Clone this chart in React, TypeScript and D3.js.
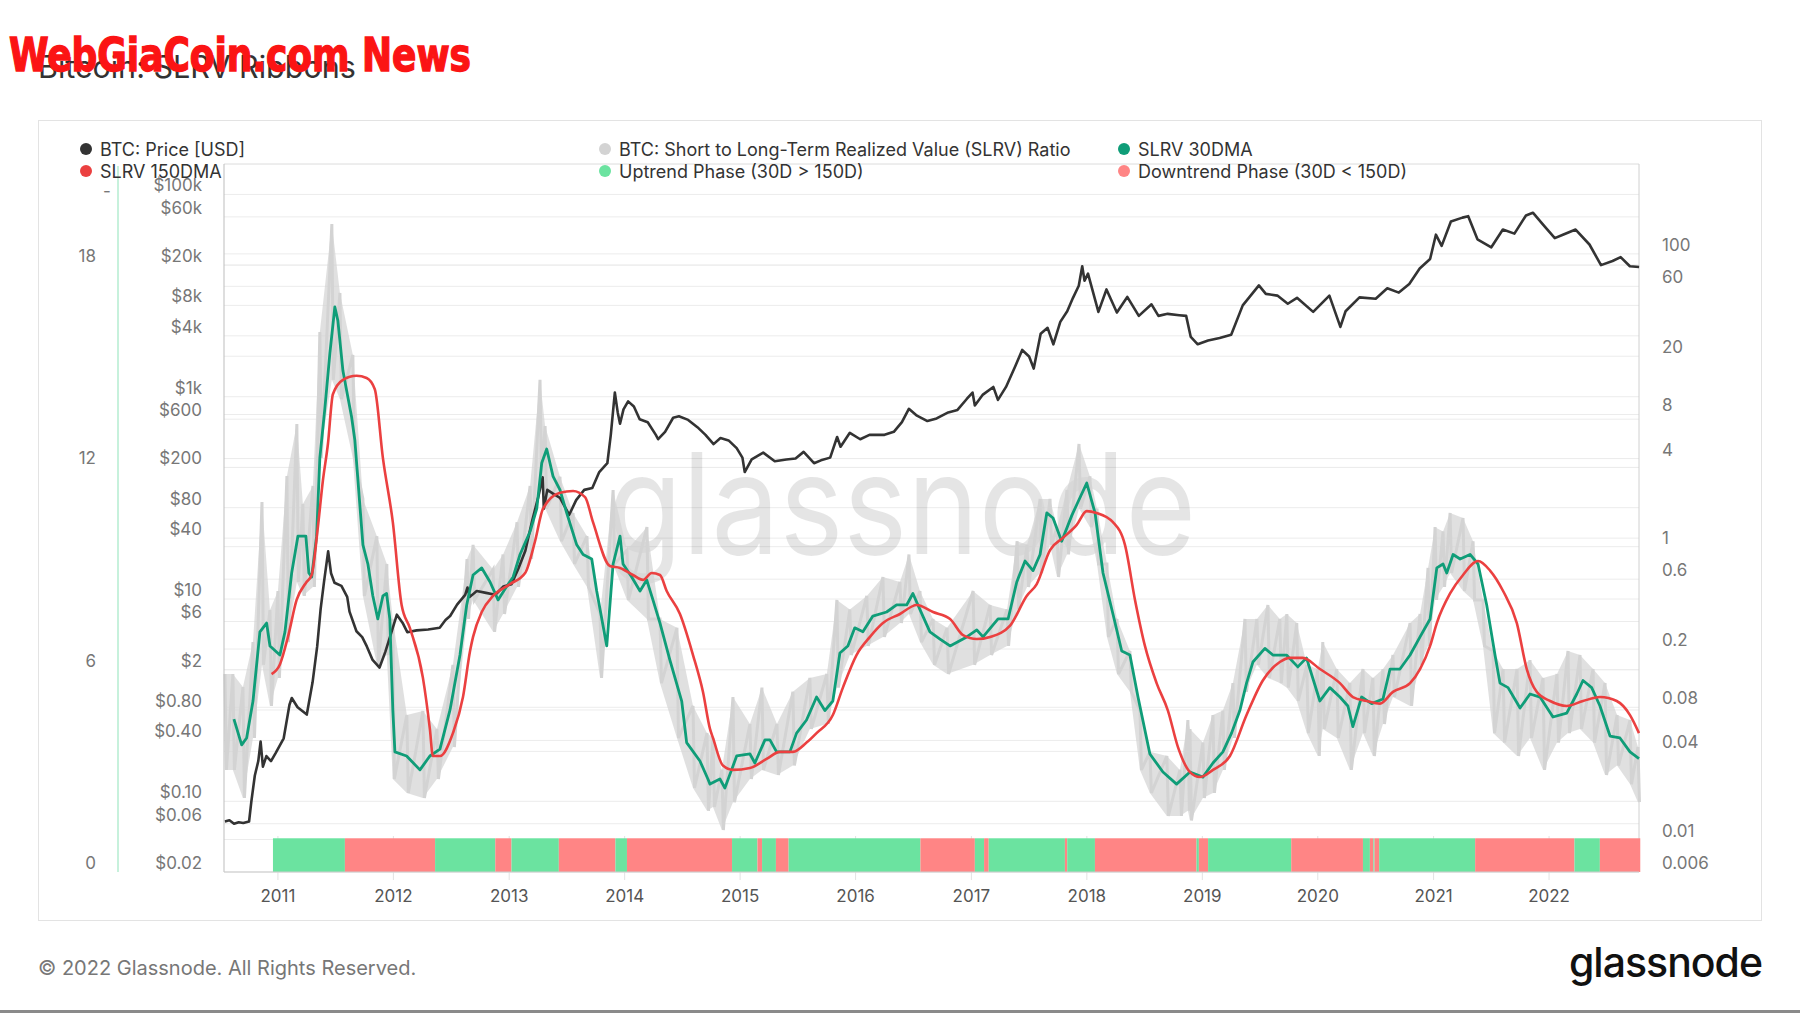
import * as d3 from "d3";

// decimal year -> Date
const fromYear = (t: number) => {
  const y = Math.floor(t);
  const a = Date.UTC(y, 0, 1);
  const b = Date.UTC(y + 1, 0, 1);
  return new Date(a + (t - y) * (b - a));
};

// BTC price [USD], [decimal year, price]
const btcPrice: [number, number][] = [
  [2010.54, 0.063], [2010.58, 0.065], [2010.62, 0.06], [2010.66, 0.062], [2010.7, 0.061], [2010.75, 0.063],
  [2010.77, 0.1], [2010.8, 0.18], [2010.83, 0.25], [2010.85, 0.39], [2010.87, 0.22], [2010.9, 0.28],
  [2010.94, 0.25], [2010.98, 0.3], [2011.05, 0.42], [2011.1, 0.9], [2011.12, 1.05], [2011.17, 0.85],
  [2011.25, 0.72], [2011.3, 1.5], [2011.34, 3.4], [2011.37, 8], [2011.4, 15], [2011.435, 29.6],
  [2011.46, 18], [2011.49, 14.5], [2011.55, 13.5], [2011.6, 10.5], [2011.62, 7.5], [2011.68, 4.8],
  [2011.73, 4.2], [2011.77, 3.4], [2011.82, 2.5], [2011.88, 2.1], [2011.93, 3.0], [2011.97, 4.2],
  [2012.03, 7.0], [2012.08, 5.8], [2012.12, 4.7], [2012.2, 4.9], [2012.3, 5.0], [2012.4, 5.2],
  [2012.45, 6.2], [2012.49, 6.8], [2012.55, 8.8], [2012.62, 11], [2012.64, 13], [2012.66, 10.5],
  [2012.72, 12], [2012.8, 11.5], [2012.88, 11], [2012.95, 13.3], [2013.02, 14], [2013.08, 20],
  [2013.14, 30], [2013.2, 60], [2013.25, 100], [2013.29, 160], [2013.3, 78], [2013.33, 120],
  [2013.38, 110], [2013.44, 100], [2013.5, 75], [2013.52, 68], [2013.58, 95], [2013.65, 120],
  [2013.72, 125], [2013.78, 180], [2013.85, 220], [2013.88, 420], [2013.915, 1100], [2013.94, 700],
  [2013.96, 540], [2013.99, 750], [2014.03, 900], [2014.08, 800], [2014.13, 600], [2014.2, 560],
  [2014.27, 420], [2014.29, 380], [2014.35, 450], [2014.42, 620], [2014.47, 640], [2014.55, 590],
  [2014.63, 500], [2014.7, 420], [2014.77, 340], [2014.83, 390], [2014.9, 370], [2014.97, 310],
  [2015.02, 250], [2015.04, 180], [2015.1, 240], [2015.2, 280], [2015.3, 230], [2015.4, 240],
  [2015.48, 245], [2015.55, 285], [2015.64, 220], [2015.7, 235], [2015.78, 250], [2015.84, 400],
  [2015.87, 320], [2015.95, 440], [2016.04, 380], [2016.12, 420], [2016.25, 420], [2016.33, 450],
  [2016.4, 560], [2016.46, 760], [2016.53, 650], [2016.62, 575], [2016.7, 610], [2016.8, 700],
  [2016.88, 740], [2016.96, 950], [2017.01, 1100], [2017.03, 820], [2017.1, 1050], [2017.19, 1250],
  [2017.23, 930], [2017.3, 1250], [2017.38, 2000], [2017.44, 2900], [2017.5, 2500], [2017.54, 1900],
  [2017.6, 4200], [2017.66, 4800], [2017.71, 3300], [2017.77, 5500], [2017.83, 7000], [2017.88, 9500],
  [2017.93, 12500], [2017.96, 19500], [2017.98, 14000], [2018.01, 16500], [2018.1, 6900], [2018.17, 11500],
  [2018.26, 6800], [2018.35, 9700], [2018.45, 6300], [2018.56, 8200], [2018.62, 6300], [2018.7, 6600],
  [2018.8, 6400], [2018.86, 6300], [2018.9, 3900], [2018.96, 3300], [2019.05, 3600], [2019.15, 3800],
  [2019.25, 4100], [2019.35, 8000], [2019.49, 12600], [2019.55, 10400], [2019.65, 10000], [2019.74, 8300],
  [2019.82, 9500], [2019.96, 6900], [2020.1, 10000], [2020.195, 4900], [2020.24, 7000], [2020.36, 9600],
  [2020.5, 9300], [2020.6, 11800], [2020.7, 10700], [2020.79, 13000], [2020.88, 18500], [2020.97, 23000],
  [2021.02, 40000], [2021.07, 31000], [2021.15, 54000], [2021.25, 59000], [2021.3, 61000], [2021.38, 36000],
  [2021.5, 30000], [2021.6, 45000], [2021.7, 41000], [2021.8, 62000], [2021.86, 66000], [2021.95, 50000],
  [2022.05, 37000], [2022.12, 40000], [2022.23, 45000], [2022.35, 32000], [2022.45, 20000], [2022.55, 22000],
  [2022.62, 24000], [2022.7, 19500], [2022.78, 19200],
];

// SLRV 30DMA
const slrv30: [number, number][] = [
  [2010.619, 0.0665], [2010.686, 0.0443], [2010.729, 0.0494], [2010.784, 0.0883], [2010.844, 0.262], [2010.902, 0.301],
  [2010.931, 0.21], [2011.017, 0.182], [2011.061, 0.262], [2011.119, 0.661], [2011.173, 1.18], [2011.242, 1.18],
  [2011.268, 0.661], [2011.292, 0.621], [2011.335, 1.18], [2011.363, 4.04], [2011.407, 8.86], [2011.45, 21.0],
  [2011.493, 43.4], [2011.519, 35.0], [2011.563, 15.9], [2011.638, 7.69], [2011.666, 5.36], [2011.736, 1.03],
  [2011.779, 0.762], [2011.822, 0.461], [2011.865, 0.321], [2011.909, 0.461], [2011.941, 0.479], [2011.969, 0.321],
  [2011.995, 0.0768], [2012.013, 0.0397], [2012.114, 0.0372], [2012.229, 0.0299], [2012.315, 0.0372], [2012.402, 0.0415],
  [2012.489, 0.0768], [2012.575, 0.182], [2012.633, 0.4], [2012.688, 0.641], [2012.763, 0.716], [2012.835, 0.574],
  [2012.904, 0.433], [2012.964, 0.514], [2013.034, 0.621], [2013.094, 0.885], [2013.181, 1.27], [2013.239, 1.82],
  [2013.282, 3.73], [2013.325, 4.65], [2013.38, 3.02], [2013.44, 2.44], [2013.498, 1.7], [2013.585, 1.03],
  [2013.64, 0.885], [2013.715, 0.824], [2013.758, 0.498], [2013.845, 0.21], [2013.9, 0.762], [2013.96, 1.18],
  [2013.986, 0.762], [2014.061, 0.621], [2014.133, 0.498], [2014.191, 0.593], [2014.245, 0.433], [2014.306, 0.301],
  [2014.392, 0.168], [2014.494, 0.0883], [2014.537, 0.0459], [2014.652, 0.0344], [2014.721, 0.0259], [2014.739, 0.0239],
  [2014.825, 0.0259], [2014.868, 0.0225], [2014.926, 0.0299], [2014.97, 0.0372], [2015.085, 0.0384], [2015.128, 0.0333],
  [2015.215, 0.0479], [2015.258, 0.0479], [2015.316, 0.0397], [2015.431, 0.0397], [2015.489, 0.0533], [2015.575, 0.0655],
  [2015.662, 0.094], [2015.734, 0.076], [2015.803, 0.0883], [2015.864, 0.188], [2015.933, 0.21], [2015.993, 0.279],
  [2016.063, 0.262], [2016.149, 0.336], [2016.268, 0.358], [2016.354, 0.4], [2016.441, 0.4], [2016.495, 0.479],
  [2016.556, 0.372], [2016.642, 0.262], [2016.729, 0.234], [2016.816, 0.21], [2016.96, 0.242], [2017.047, 0.27],
  [2017.101, 0.242], [2017.231, 0.321], [2017.318, 0.321], [2017.393, 0.574], [2017.465, 0.798], [2017.534, 0.687],
  [2017.595, 0.885], [2017.653, 1.7], [2017.707, 1.57], [2017.782, 1.09], [2017.869, 1.63], [2017.923, 2.02],
  [2017.999, 2.72], [2018.071, 1.7], [2018.14, 0.661], [2018.226, 0.347], [2018.302, 0.194], [2018.373, 0.182],
  [2018.443, 0.094], [2018.546, 0.0384], [2018.659, 0.0289], [2018.777, 0.0239], [2018.893, 0.0289], [2019.005, 0.0267],
  [2019.092, 0.0333], [2019.178, 0.0397], [2019.253, 0.0533], [2019.325, 0.076], [2019.383, 0.117], [2019.438, 0.163],
  [2019.542, 0.202], [2019.611, 0.182], [2019.729, 0.182], [2019.827, 0.151], [2019.902, 0.174], [2020.018, 0.0883],
  [2020.104, 0.109], [2020.191, 0.094], [2020.26, 0.0817], [2020.303, 0.0591], [2020.378, 0.094], [2020.465, 0.0847],
  [2020.563, 0.0912], [2020.624, 0.146], [2020.71, 0.146], [2020.797, 0.182], [2020.883, 0.242], [2020.97, 0.321],
  [2021.028, 0.716], [2021.082, 0.762], [2021.114, 0.661], [2021.169, 0.885], [2021.23, 0.824], [2021.316, 0.885],
  [2021.385, 0.762], [2021.46, 0.4], [2021.532, 0.182], [2021.575, 0.117], [2021.645, 0.109], [2021.749, 0.0791],
  [2021.835, 0.0986], [2021.922, 0.094], [2022.034, 0.0687], [2022.153, 0.0731], [2022.24, 0.0986], [2022.294, 0.122],
  [2022.369, 0.109], [2022.441, 0.0817], [2022.528, 0.0509], [2022.614, 0.0494], [2022.701, 0.0397], [2022.779, 0.0357],
];

// SLRV 150DMA
const slrv150: [number, number][] = [
  [2010.945, 0.135], [2011.017, 0.157], [2011.087, 0.242], [2011.162, 0.433], [2011.248, 0.574], [2011.292, 0.641],
  [2011.346, 1.36], [2011.389, 2.81], [2011.433, 5.03], [2011.476, 11.0], [2011.563, 13.8], [2011.681, 14.7],
  [2011.768, 14.2], [2011.839, 11.9], [2011.909, 4.04], [2011.995, 1.47], [2012.071, 0.4], [2012.142, 0.279],
  [2012.255, 0.127], [2012.315, 0.0569], [2012.341, 0.0372], [2012.402, 0.0372], [2012.514, 0.0533], [2012.601, 0.094],
  [2012.662, 0.194], [2012.688, 0.242], [2012.763, 0.358], [2012.861, 0.461], [2013.008, 0.556], [2013.138, 0.661],
  [2013.224, 1.09], [2013.293, 1.82], [2013.44, 2.34], [2013.553, 2.4], [2013.657, 2.18], [2013.726, 1.47],
  [2013.873, 0.738], [2013.96, 0.716], [2014.072, 0.641], [2014.159, 0.593], [2014.234, 0.661], [2014.306, 0.641],
  [2014.364, 0.498], [2014.479, 0.347], [2014.592, 0.182], [2014.678, 0.102], [2014.739, 0.0569], [2014.765, 0.0494],
  [2014.851, 0.032], [2014.938, 0.0299], [2015.085, 0.0308], [2015.229, 0.0355], [2015.344, 0.0397], [2015.457, 0.0397],
  [2015.575, 0.0459], [2015.662, 0.0533], [2015.803, 0.0708], [2015.89, 0.109], [2016.008, 0.182], [2016.124, 0.242],
  [2016.236, 0.301], [2016.383, 0.347], [2016.528, 0.4], [2016.669, 0.358], [2016.816, 0.321], [2016.928, 0.249],
  [2017.047, 0.234], [2017.162, 0.242], [2017.335, 0.289], [2017.479, 0.461], [2017.566, 0.556], [2017.681, 0.949],
  [2017.794, 1.15], [2017.912, 1.41], [2017.999, 1.75], [2018.085, 1.7], [2018.226, 1.47], [2018.33, 1.03],
  [2018.417, 0.433], [2018.503, 0.21], [2018.604, 0.117], [2018.702, 0.076], [2018.789, 0.0428], [2018.893, 0.0289],
  [2018.979, 0.0267], [2019.092, 0.0299], [2019.239, 0.0372], [2019.383, 0.0708], [2019.524, 0.122], [2019.671, 0.163],
  [2019.758, 0.174], [2019.87, 0.174], [2020.018, 0.146], [2020.191, 0.117], [2020.303, 0.094], [2020.422, 0.0883],
  [2020.537, 0.0847], [2020.649, 0.102], [2020.797, 0.117], [2020.883, 0.146], [2020.97, 0.21], [2021.028, 0.301],
  [2021.143, 0.479], [2021.255, 0.641], [2021.385, 0.798], [2021.489, 0.687], [2021.602, 0.498], [2021.721, 0.301],
  [2021.807, 0.146], [2021.893, 0.102], [2022.009, 0.0883], [2022.153, 0.0817], [2022.294, 0.0883], [2022.441, 0.094],
  [2022.586, 0.0883], [2022.701, 0.0708], [2022.779, 0.0533],
];

// raw SLRV ratio, read as [decimal year, high, low] of the daily noise
const slrvRaw: [number, number, number][] = [
  [2010.541, 0.135, 0.0299], [2010.61, 0.135, 0.0299], [2010.697, 0.11, 0.0192], [2010.784, 0.223, 0.0494],
  [2010.862, 2.02, 0.156], [2010.931, 0.369, 0.0817], [2011.0, 0.498, 0.127], [2011.078, 3.04, 0.223],
  [2011.164, 6.89, 0.574], [2011.216, 1.96, 0.461], [2011.303, 2.6, 0.531], [2011.363, 29.3, 4.04],
  [2011.467, 160, 13.8], [2011.537, 54.1, 10.2], [2011.649, 20.4, 4.04], [2011.736, 2.12, 0.461],
  [2011.857, 1.18, 0.156], [2011.943, 0.762, 0.182], [2011.995, 0.321, 0.0259], [2012.116, 0.0708, 0.0208],
  [2012.255, 0.0755, 0.0192], [2012.376, 0.0569, 0.0259], [2012.514, 0.156, 0.0428], [2012.636, 0.824, 0.321],
  [2012.688, 1.03, 0.433], [2012.861, 0.7, 0.262], [2012.947, 0.885, 0.347], [2013.068, 1.47, 0.531],
  [2013.181, 2.6, 0.824], [2013.267, 13.8, 3.02], [2013.311, 6.67, 1.82], [2013.44, 3.0, 1.09],
  [2013.553, 1.7, 0.762], [2013.674, 1.18, 0.531], [2013.787, 0.347, 0.127], [2013.9, 2.44, 0.762],
  [2014.02, 0.949, 0.433], [2014.193, 1.36, 0.321], [2014.306, 0.321, 0.117], [2014.453, 0.279, 0.0494],
  [2014.592, 0.0817, 0.0225], [2014.713, 0.0533, 0.0157], [2014.765, 0.0494, 0.0167], [2014.842, 0.0299, 0.0116],
  [2014.938, 0.094, 0.018], [2015.085, 0.0615, 0.0259], [2015.189, 0.109, 0.0299], [2015.319, 0.0615, 0.0276],
  [2015.457, 0.102, 0.032], [2015.604, 0.127, 0.0569], [2015.751, 0.135, 0.0615], [2015.838, 0.433, 0.109],
  [2015.95, 0.372, 0.182], [2016.097, 0.461, 0.21], [2016.236, 0.621, 0.242], [2016.383, 0.574, 0.301],
  [2016.461, 0.885, 0.347], [2016.556, 0.498, 0.223], [2016.669, 0.321, 0.156], [2016.79, 0.279, 0.135],
  [2017.015, 0.498, 0.156], [2017.162, 0.4, 0.182], [2017.309, 0.372, 0.21], [2017.396, 1.09, 0.372],
  [2017.482, 1.03, 0.531], [2017.595, 2.12, 0.661], [2017.681, 2.12, 1.03], [2017.742, 1.36, 0.621],
  [2017.828, 2.44, 0.885], [2017.932, 5.03, 1.82], [2018.027, 3.02, 1.36], [2018.088, 1.82, 0.762],
  [2018.174, 0.762, 0.242], [2018.261, 0.321, 0.135], [2018.373, 0.194, 0.102], [2018.46, 0.076, 0.0299],
  [2018.546, 0.0397, 0.0208], [2018.693, 0.0372, 0.0145], [2018.806, 0.0299, 0.0145], [2018.875, 0.0655, 0.0157],
  [2018.893, 0.0569, 0.0135], [2019.005, 0.0459, 0.0192], [2019.092, 0.0708, 0.0208], [2019.178, 0.076, 0.0299],
  [2019.265, 0.117, 0.0494], [2019.369, 0.321, 0.102], [2019.473, 0.321, 0.156], [2019.568, 0.4, 0.127],
  [2019.671, 0.321, 0.117], [2019.732, 0.347, 0.109], [2019.818, 0.301, 0.0883], [2019.905, 0.156, 0.0533],
  [2020.0, 0.146, 0.0372], [2020.043, 0.223, 0.0569], [2020.164, 0.146, 0.0494], [2020.277, 0.117, 0.0299],
  [2020.39, 0.146, 0.0533], [2020.476, 0.127, 0.0372], [2020.563, 0.146, 0.0615], [2020.649, 0.182, 0.094],
  [2020.797, 0.301, 0.0817], [2020.883, 0.347, 0.156], [2020.952, 0.716, 0.21], [2021.013, 1.36, 0.433],
  [2021.082, 1.27, 0.531], [2021.143, 1.7, 0.661], [2021.255, 1.57, 0.498], [2021.342, 1.09, 0.433],
  [2021.428, 0.433, 0.21], [2021.515, 0.194, 0.0533], [2021.602, 0.146, 0.0459], [2021.723, 0.146, 0.0372],
  [2021.835, 0.168, 0.0494], [2021.948, 0.127, 0.0299], [2022.069, 0.135, 0.0459], [2022.164, 0.194, 0.0533],
  [2022.268, 0.182, 0.0569], [2022.381, 0.146, 0.0459], [2022.485, 0.117, 0.0276], [2022.589, 0.0708, 0.032],
  [2022.701, 0.0655, 0.0239], [2022.77, 0.0428, 0.018],
];

// uptrend / downtrend phases: start of each phase
const phaseStarts = [
  2010.957, 2011.58, 2012.36, 2012.88, 2013.02, 2013.43, 2013.92, 2014.02, 2014.93, 2015.15, 2015.19,
  2015.31, 2015.42, 2016.56, 2017.03, 2017.11, 2017.15, 2017.81, 2017.83, 2018.07, 2018.95, 2018.97,
  2019.05, 2019.77, 2020.39, 2020.45, 2020.48, 2020.49, 2020.53, 2021.36, 2022.22, 2022.44,
];
const phaseIsUp = phaseStarts.map((_, i) => i % 2 === 0);
const phaseEnd = 2022.79;
const phaseValue = 1;

const priceTicks = [0.02, 0.06, 0.1, 0.4, 0.8, 2, 6, 10, 40, 80, 200, 600, 1000, 4000, 8000, 20000, 60000, 100000];
const priceLabels = ["$0.02", "$0.06", "$0.10", "$0.40", "$0.80", "$2", "$6", "$10", "$40", "$80", "$200", "$600", "$1k", "$4k", "$8k", "$20k", "$60k", "$100k"];
const ratioTicks = [0.006, 0.01, 0.04, 0.08, 0.2, 0.6, 1, 4, 8, 20, 60, 100];
const phaseTicks = [0, 6, 12, 18];
const years = [2011, 2012, 2013, 2014, 2015, 2016, 2017, 2018, 2019, 2020, 2021, 2022];

const C = {
  price: "#333333",
  raw: "#d3d3d3",
  ma30: "#0f9d78",
  ma150: "#eb4040",
  up: "#6be3a0",
  down: "#ff8585",
  grid: "#ececec",
  axis: "#777777",
};

const L = 224, R = 1639, T = 164, B = 872;
const FONT = "Inter, 'Noto Sans', sans-serif";

export default function App() {
  const x = d3.scaleTime().domain([fromYear(2010.533), fromYear(2022.779)]).range([L, R]);
  const yPrice = d3.scaleLog().domain([0.02, 200000]).range([B, T]);
  const yRatio = d3.scaleLog().domain([0.006, 411]).range([B, T]);
  const yPhase = d3.scaleLinear().domain([0, 21]).range([B, T]);

  const line = (y: d3.ScaleLogarithmic<number, number>) =>
    d3.line<[number, number]>().x((d) => x(fromYear(d[0]))).y((d) => y(d[1]));

  const rawArea = d3
    .area<[number, number, number]>()
    .x((d) => x(fromYear(d[0])))
    .y0((d) => yRatio(d[2]))
    .y1((d) => yRatio(d[1]));

  // spiky texture for the raw ratio: hi -> lo at each sample
  const rawZig = slrvRaw
    .map((d, i) => {
      const px = x(fromYear(d[0]));
      return `${i ? "L" : "M"}${px},${yRatio(d[1])}L${px + 1.5},${yRatio(d[2])}`;
    })
    .join("");

  const legend = [
    { cx: 86, cy: 149, c: C.price, t: "BTC: Price [USD]" },
    { cx: 605, cy: 149, c: C.raw, t: "BTC: Short to Long-Term Realized Value (SLRV) Ratio" },
    { cx: 1124, cy: 149, c: C.ma30, t: "SLRV 30DMA" },
    { cx: 86, cy: 171, c: C.ma150, t: "SLRV 150DMA" },
    { cx: 605, cy: 171, c: C.up, t: "Uptrend Phase (30D > 150D)" },
    { cx: 1124, cy: 171, c: C.down, t: "Downtrend Phase (30D < 150D)" },
  ];

  const gridYs = [
    ...priceTicks.map((v) => yPrice(v)),
    ...ratioTicks.map((v) => yRatio(v)),
    ...phaseTicks.map((v) => yPhase(v)),
  ];

  return (
    <div style={{ position: "absolute", left: 0, top: 0 }}>
      <svg width={1800} height={1013} style={{ display: "block", background: "#fff" }} fontFamily={FONT}>
        <rect x={38.5} y={120.5} width={1723} height={800} fill="#fff" stroke="#e3e3e3" />

        <text x={38} y={78} fontSize={30.5} fill="#333">Bitcoin: SLRV Ribbons</text>
        <text
          x={9}
          y={71}
          fontSize={46}
          fontWeight={900}
          fill="#fb1414"
          stroke="#fb1414"
          strokeWidth={1.4}
          fontFamily="'Liberation Sans Narrow', 'DejaVu Sans Condensed', sans-serif"
          textLength={462}
          lengthAdjust="spacingAndGlyphs"
        >
          WebGiaCoin.com News
        </text>

        {/* grid */}
        {gridYs.map((gy, i) => (
          <line key={i} x1={L} x2={R} y1={gy} y2={gy} stroke={C.grid} strokeWidth={1} />
        ))}
        {years.map((yr) => (
          <line key={yr} x1={x(fromYear(yr))} x2={x(fromYear(yr))} y1={836} y2={880} stroke="#e2e2e2" />
        ))}

        <text
          x={608}
          y={554}
          fontSize={140}
          fill="#000"
          fillOpacity={0.1}
          textLength={588}
          lengthAdjust="spacingAndGlyphs"
        >
          glassnode
        </text>

        {/* frame */}
        <line x1={L} x2={R} y1={T} y2={T} stroke="#dcdcdc" />
        <line x1={R} x2={R} y1={T} y2={B} stroke="#d0d0d0" />

        {/* raw ratio */}
        <path d={rawArea(slrvRaw) ?? ""} fill={C.raw} fillOpacity={0.7} />
        <path d={rawZig} fill="none" stroke={C.raw} strokeWidth={3} />

        <path d={line(yPrice)(btcPrice) ?? ""} fill="none" stroke={C.price} strokeWidth={2.6} strokeLinejoin="round" />
        <path d={line(yRatio)(slrv30) ?? ""} fill="none" stroke={C.ma30} strokeWidth={2.8} strokeLinejoin="round" />
        <path
          d={line(yRatio).curve(d3.curveMonotoneX)(slrv150) ?? ""}
          fill="none"
          stroke={C.ma150}
          strokeWidth={2.6}
        />

        {/* phase bars */}
        {phaseStarts.map((s, i) => {
          const e = i + 1 < phaseStarts.length ? phaseStarts[i + 1] : phaseEnd;
          const x0 = x(fromYear(s));
          const x1 = x(fromYear(e));
          return (
            <rect
              key={i}
              x={x0}
              y={yPhase(phaseValue)}
              width={Math.max(1, x1 - x0)}
              height={yPhase(0) - yPhase(phaseValue)}
              fill={phaseIsUp[i] ? C.up : C.down}
            />
          );
        })}

        <line x1={L} x2={L} y1={T} y2={B} stroke="#bdbdbd" />
        <line x1={L} x2={R} y1={B} y2={B} stroke="#cfcfcf" />

        {/* phase axis */}
        <line x1={118} x2={118} y1={166} y2={B} stroke="#b5ecd0" strokeWidth={1.5} />
        <text x={103} y={197} fontSize={17} fill={C.axis}>-</text>
        {phaseTicks.map((v) => (
          <text key={v} x={96} y={yPhase(v) - 9} fontSize={17} fill={C.axis} textAnchor="end" dominantBaseline="central">
            {v}
          </text>
        ))}
        {priceTicks.map((v, i) => (
          <text key={v} x={202} y={yPrice(v) - 9} fontSize={17} fill={C.axis} textAnchor="end" dominantBaseline="central">
            {priceLabels[i]}
          </text>
        ))}
        {ratioTicks.map((v) => (
          <text key={v} x={1662} y={yRatio(v) - 9} fontSize={17} fill={C.axis} dominantBaseline="central">
            {v}
          </text>
        ))}
        {years.map((yr) => (
          <text key={yr} x={x(fromYear(yr))} y={896} fontSize={17} fill="#555" textAnchor="middle" dominantBaseline="central">
            {yr}
          </text>
        ))}

        {/* legend */}
        {legend.map((d) => (
          <g key={d.t}>
            <circle cx={d.cx} cy={d.cy} r={6} fill={d.c} />
            <text x={d.cx + 14} y={d.cy} fontSize={18} fill="#333" dominantBaseline="central">
              {d.t}
            </text>
          </g>
        ))}

        <text x={38} y={968} fontSize={20} fill="#777" dominantBaseline="central">
          © 2022 Glassnode. All Rights Reserved.
        </text>
        <text x={1762} y={977} fontSize={41} fontWeight={500} fill="#111" textAnchor="end" letterSpacing={-1}>
          glassnode
        </text>
        <rect x={0} y={1010} width={1800} height={3} fill="#8a8a8a" />
      </svg>
    </div>
  );
}
